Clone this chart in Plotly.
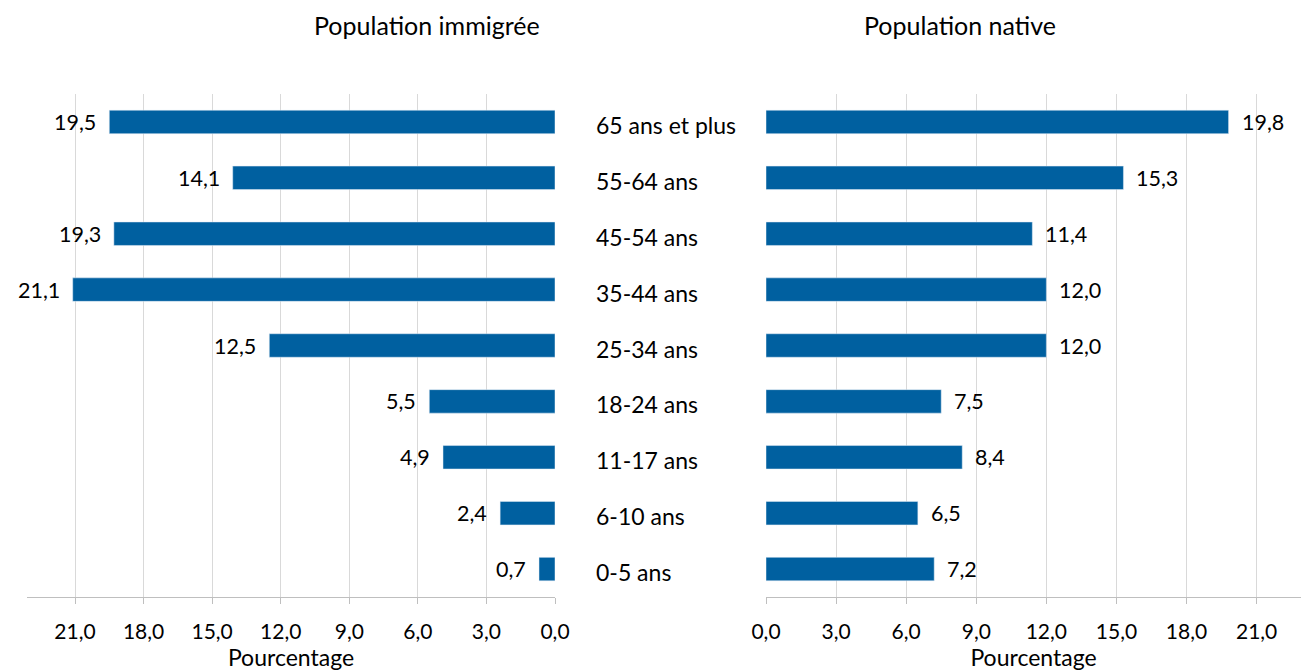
import plotly.graph_objects as go

age_groups = ["0-5 ans", "6-10 ans", "11-17 ans", "18-24 ans", "25-34 ans",
              "35-44 ans", "45-54 ans", "55-64 ans", "65 ans et plus"]
immigres = [0.7, 2.4, 4.9, 5.5, 12.5, 21.1, 19.3, 14.1, 19.5]
natifs = [7.2, 6.5, 8.4, 7.5, 12.0, 12.0, 11.4, 15.3, 19.8]
tick_vals = [0, 3, 6, 9, 12, 15, 18, 21]
tick_text = ["0,0", "3,0", "6,0", "9,0", "12,0", "15,0", "18,0", "21,0"]

BLUE = "#0060a0"
FONT = "Lato, 'Open Sans', sans-serif"
W, H = 1301, 671
TOP, BOTTOM = 94, 74
PLOT_H = H - TOP - BOTTOM


def fmt(v):
    return f"{v:.1f}".replace(".", ",")


fig = go.Figure()
fig.add_trace(go.Bar(x=immigres, y=age_groups, orientation="h", width=0.42,
                     marker_color=BLUE, xaxis="x", yaxis="y", showlegend=False))
fig.add_trace(go.Bar(x=natifs, y=age_groups, orientation="h", width=0.42,
                     marker_color=BLUE, xaxis="x2", yaxis="y2", showlegend=False))

ann = []
for g, v in zip(age_groups, immigres):
    ann.append(dict(x=v, y=g, xref="x", yref="y", text=fmt(v), showarrow=False,
                    xanchor="right", xshift=-11, font=dict(size=21.5)))
for g, v in zip(age_groups, natifs):
    ann.append(dict(x=v, y=g, xref="x2", yref="y2", text=fmt(v), showarrow=False,
                    xanchor="left", xshift=11, font=dict(size=21.5)))
# category labels in the middle column
for g in age_groups:
    ann.append(dict(x=594 / W, y=g, xref="paper", yref="y", text=g, showarrow=False,
                    xanchor="left", yshift=-3, font=dict(size=23)))
# panel titles
title_y = 1 + (TOP - 25) / PLOT_H
ann.append(dict(x=427 / W, y=title_y, xref="paper", yref="paper", xanchor="center",
                yanchor="middle", text="Population immigrée", showarrow=False,
                font=dict(size=25)))
ann.append(dict(x=960 / W, y=title_y, xref="paper", yref="paper", xanchor="center",
                yanchor="middle", text="Population native", showarrow=False,
                font=dict(size=25)))

xcommon = dict(tickvals=tick_vals, ticktext=tick_text, showgrid=True,
               gridcolor="#d9d9d9", gridwidth=1, showline=True, linecolor="#bfbfbf",
               linewidth=1, ticks="outside", ticklen=6, tickcolor="#bfbfbf",
               tickfont=dict(size=21), ticklabelstandoff=10, zeroline=False,
               fixedrange=True, automargin=False,
               title=dict(text="Pourcentage", font=dict(size=23), standoff=1))

ycommon = dict(type="category", categoryorder="array", categoryarray=age_groups,
               showticklabels=False, showgrid=False, showline=False, ticks="",
               range=[-0.5, 8.5], fixedrange=True, automargin=False)

fig.update_layout(
    width=W, height=H, autosize=False,
    margin=dict(l=0, r=0, t=TOP, b=BOTTOM, autoexpand=False),
    paper_bgcolor="white", plot_bgcolor="white",
    font=dict(family=FONT, color="#000000", size=20),
    xaxis=dict(domain=[27 / W, 555 / W], range=[23.1, 0], anchor="y", **xcommon),
    xaxis2=dict(domain=[766 / W, 1.0], range=[0, 22.9], anchor="y2", **xcommon),
    yaxis=dict(anchor="x", **ycommon),
    yaxis2=dict(anchor="x2", **ycommon),
    annotations=ann,
)

# drop the default 8px page margin so the figure sits at the window's corner
fig.write_html("out.html", config={"responsive": False, "displayModeBar": False},
               post_script="document.body.style.margin='0';")
